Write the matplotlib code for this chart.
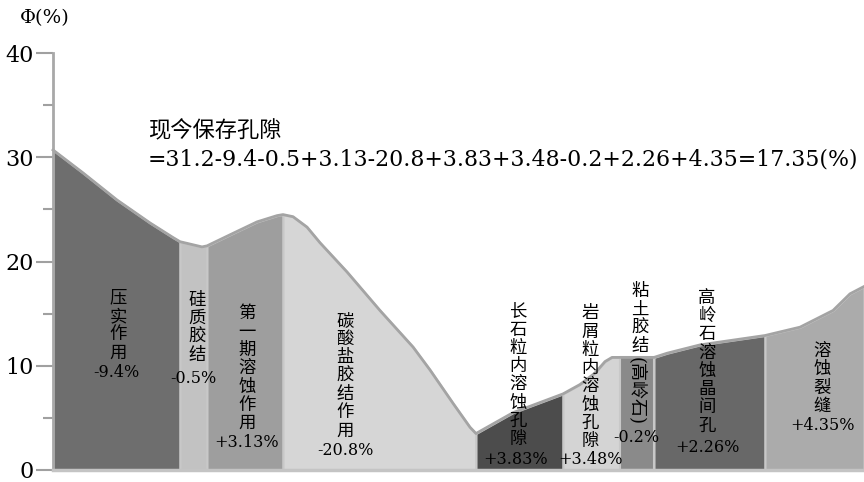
import matplotlib.pyplot as plt
import numpy as np

plt.rcParams['font.family'] = ['DejaVu Serif', 'Noto Sans CJK SC']

# porosity evolution curve (x = diagenesis progress, phi in %)
curve_x = [0, 30, 64, 97, 120, 127, 149, 154, 180, 204, 224, 230, 240, 254, 267, 294,
           327, 360, 377, 400, 417, 423, 460, 510, 527, 542, 552, 559, 567, 601, 614,
           647, 712, 747, 780, 797, 811]
curve_phi = [30.7, 28.5, 25.9, 23.7, 22.3, 21.9, 21.4, 21.5, 22.7, 23.8, 24.4, 24.5, 24.3, 23.3, 21.8, 19.0,
             15.3, 11.8, 9.6, 6.4, 4.1, 3.5, 5.5, 7.3, 8.2, 9.3, 10.4, 10.8, 10.8, 10.8, 11.2,
             12.0, 12.9, 13.7, 15.3, 16.9, 17.6]

# diagenetic stages
stage_edges = [0, 127, 154, 230, 423, 510, 567, 601, 712, 811]
stage_names = ['压实作用', '硅质胶结', '第一期溶蚀作用', '碳酸盐胶结作用', '长石粒内溶蚀孔隙',
               '岩屑粒内溶蚀孔隙', '粘土胶结', '高岭石溶蚀晶间孔', '溶蚀裂缝']
stage_change = ['-9.4%', '-0.5%', '+3.13%', '-20.8%', '+3.83%', '+3.48%', '-0.2%', '+2.26%', '+4.35%']
stage_colors = ['#6e6e6e', '#c2c2c2', '#9e9e9e', '#d6d6d6', '#4c4c4c',
                '#d4d4d4', '#8a8a8a', '#686868', '#ababab']

yticks_major = [0, 10, 20, 30, 40]
yticks_minor = [5, 15, 25, 35]

fig = plt.figure(figsize=(8.64, 4.82), dpi=100)
ax = fig.add_axes([53 / 864, 12 / 482, 811 / 864, 417 / 482])

cx = np.array(curve_x)
cp = np.array(curve_phi)
for i in range(len(stage_names)):
    m = (cx >= stage_edges[i]) & (cx <= stage_edges[i + 1])
    ax.fill_between(cx[m], 0, cp[m], facecolor=stage_colors[i],
                    edgecolor='#c8c8c8', linewidth=1.5)
ax.plot(cx, cp, color='#a4a4a4', linewidth=2, solid_joinstyle='round', clip_on=False)

ax.set_xlim(0, 811)
ax.set_ylim(0, 40)
ax.set_xticks([])
ax.set_yticks(yticks_major)
ax.set_yticks(yticks_minor, minor=True)
ax.tick_params(axis='y', which='major', length=12, width=1.5, color='#a0a0a0',
               labelsize=16, pad=2)
ax.tick_params(axis='y', which='minor', length=7, width=1.5, color='#a0a0a0')
for s in ['top', 'right']:
    ax.spines[s].set_visible(False)
ax.spines['left'].set_color('#a8a8a8')
ax.spines['left'].set_linewidth(2)
ax.spines['bottom'].set_color('#c4c4c4')
ax.spines['bottom'].set_linewidth(2.5)

fig.text(20 / 864, 1 - 18 / 482, 'Φ(%)', fontsize=14, va='center', ha='left')

# stage labels: vertical name (top anchored) and change value
name_x = [65, 144, 194, 292, 465, 537, 587, 654, 769]
name_top = [17.3, 17.1, 15.8, 15.1, 16.0, 15.8, 17.9, 17.3, 12.2]
pct_x = [63, 140, 194, 292, 463, 537, 583, 654, 769]
pct_y = [9.4, 8.8, 2.6, 1.9, 0.96, 0.96, 3.07, 2.2, 4.3]
for i in range(len(stage_names)):
    ax.text(name_x[i], name_top[i], '\n'.join(stage_names[i]), ha='center', va='top',
            fontsize=12.5, linespacing=1.1)
    ax.text(pct_x[i], pct_y[i], stage_change[i], ha='center', va='center', fontsize=11.5)

# mineral name of the clay cement, written sideways
ax.text(583, 7.6, '(高岭石)', ha='center', va='center', fontsize=13, rotation=-90)

ax.text(95, 32.5, '现今保存孔隙', fontsize=16, va='center', ha='left')
ax.text(95, 29.8, '=31.2-9.4-0.5+3.13-20.8+3.83+3.48-0.2+2.26+4.35=17.35(%)',
        fontsize=15.8, va='center', ha='left')

fig.savefig('out.png', dpi=100)
